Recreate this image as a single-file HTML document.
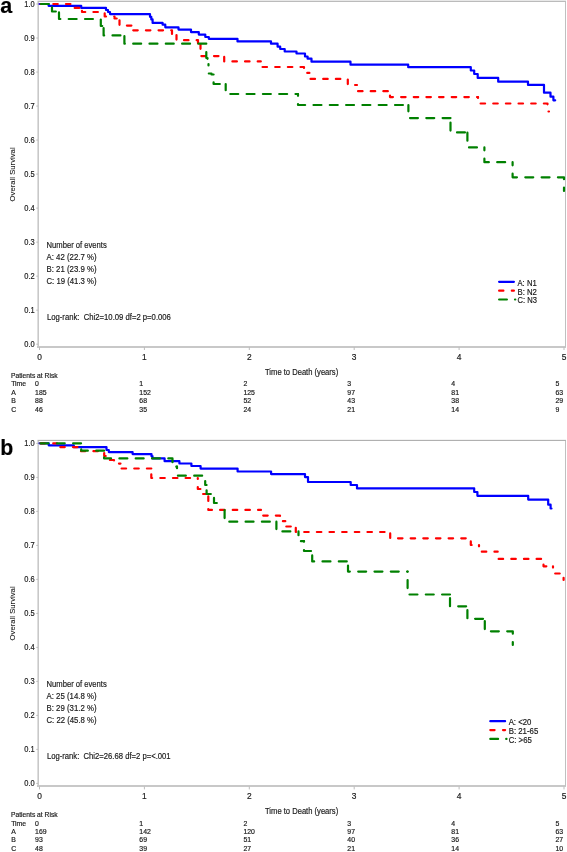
<!DOCTYPE html>
<html><head><meta charset="utf-8"><style>
html,body{margin:0;padding:0;background:#fff;}
svg{display:block;font-family:"Liberation Sans", sans-serif;will-change:transform;}
</style></head><body>
<svg width="567" height="852" viewBox="0 0 567 852">
<rect width="567" height="852" fill="#fff"/>
<g>
<rect x="37.5" y="0" width="528.5" height="1" fill="#e8e8e8"/>
<rect x="37.5" y="1" width="528.5" height="1" fill="#bbbbbb"/>
<rect x="37" y="2" width="1" height="346" fill="#dedede"/>
<rect x="38" y="2" width="1" height="346" fill="#c8c8c8"/>
<rect x="37" y="346" width="529" height="2" fill="#c8c8c8"/>
<rect x="565" y="2" width="1" height="345" fill="#c0c0c0"/>
<path d="M36.3,4.00H38" stroke="#bcbcbc" stroke-width="1"/>
<path d="M36.3,38.02H38" stroke="#bcbcbc" stroke-width="1"/>
<path d="M36.3,72.04H38" stroke="#bcbcbc" stroke-width="1"/>
<path d="M36.3,106.06H38" stroke="#bcbcbc" stroke-width="1"/>
<path d="M36.3,140.08H38" stroke="#bcbcbc" stroke-width="1"/>
<path d="M36.3,174.10H38" stroke="#bcbcbc" stroke-width="1"/>
<path d="M36.3,208.12H38" stroke="#bcbcbc" stroke-width="1"/>
<path d="M36.3,242.14H38" stroke="#bcbcbc" stroke-width="1"/>
<path d="M36.3,276.16H38" stroke="#bcbcbc" stroke-width="1"/>
<path d="M36.3,310.18H38" stroke="#bcbcbc" stroke-width="1"/>
<path d="M36.3,344.20H38" stroke="#bcbcbc" stroke-width="1"/>
<path d="M39.50,347V350" stroke="#bcbcbc" stroke-width="1"/>
<path d="M144.40,347V350" stroke="#bcbcbc" stroke-width="1"/>
<path d="M249.30,347V350" stroke="#bcbcbc" stroke-width="1"/>
<path d="M354.20,347V350" stroke="#bcbcbc" stroke-width="1"/>
<path d="M459.10,347V350" stroke="#bcbcbc" stroke-width="1"/>
<path d="M564.00,347V350" stroke="#bcbcbc" stroke-width="1"/>
<path d="M39.5,4H48.6V5.8H81.2V7.9H106V10H108V12H110V14.1H150V16.8H151.3V19.4H152.6V22.9H162.6V24.7H165.3V27.3H178.5V29.6H191V32.1H198.8V34.6H205.3V37H208.8V38.8H237.5V41.4H271V43.7H277.6V46.7H280.2V49H284.7V51.5H296.5V53.5H305V56.5H307.6V58.7H311.5V61.7H350.5V64.7H408.2V67.2H470.8V70.5H474.2V74H477.7V77.9H498.2V81.7H528V84.9H544V92.7H550.5V96.7H553.4V100.3H555.2" fill="none" stroke="#0000ff" stroke-width="2.2" stroke-linecap="round" stroke-linejoin="round"/>
<path d="M39.5,4H72.4V7.9H82" fill="none" stroke="#ff0000" stroke-width="2.2" stroke-dasharray="4.50 8.15" stroke-dashoffset="11.50" stroke-linecap="round" stroke-linejoin="round"/>
<path d="M82,7.9V12H104.7V16.5H114.5V18.5H119.5" fill="none" stroke="#ff0000" stroke-width="2.2" stroke-dasharray="4.50 8.15" stroke-dashoffset="9.80" stroke-linecap="round" stroke-linejoin="round"/>
<path d="M119.5,18.5V25.6H132" fill="none" stroke="#ff0000" stroke-width="2.2" stroke-dasharray="4.50 8.15" stroke-dashoffset="10.80" stroke-linecap="round" stroke-linejoin="round"/>
<path d="M132,25.6V30.3H172V34H176.5" fill="none" stroke="#ff0000" stroke-width="2.2" stroke-dasharray="4.50 8.15" stroke-dashoffset="6.70" stroke-linecap="round" stroke-linejoin="round"/>
<path d="M176.5,34V40.2H198V44H200.5" fill="none" stroke="#ff0000" stroke-width="2.2" stroke-dasharray="4.50 8.15" stroke-dashoffset="11.60" stroke-linecap="round" stroke-linejoin="round"/>
<path d="M200.5,44V56.1H224.2" fill="none" stroke="#ff0000" stroke-width="2.2" stroke-dasharray="4.50 8.15" stroke-dashoffset="12.35" stroke-linecap="round" stroke-linejoin="round"/>
<path d="M224.2,56.1V61.4H260.8" fill="none" stroke="#ff0000" stroke-width="2.2" stroke-dasharray="4.50 8.15" stroke-dashoffset="11.80" stroke-linecap="round" stroke-linejoin="round"/>
<path d="M260.8,61.4V67H304V72.9H309.4" fill="none" stroke="#ff0000" stroke-width="2.2" stroke-dasharray="4.50 8.15" stroke-dashoffset="5.30" stroke-linecap="round" stroke-linejoin="round"/>
<path d="M309.4,72.9V78.9H347.8V85H357" fill="none" stroke="#ff0000" stroke-width="2.2" stroke-dasharray="4.50 8.15" stroke-dashoffset="5.50" stroke-linecap="round" stroke-linejoin="round"/>
<path d="M357,85V91.2H390" fill="none" stroke="#ff0000" stroke-width="2.2" stroke-dasharray="4.50 8.15" stroke-dashoffset="5.40" stroke-linecap="round" stroke-linejoin="round"/>
<path d="M390,91.2V97.1H478" fill="none" stroke="#ff0000" stroke-width="2.2" stroke-dasharray="4.50 8.15" stroke-dashoffset="8.30" stroke-linecap="round" stroke-linejoin="round"/>
<path d="M478,97.1V103.5H547.5V111.5H549" fill="none" stroke="#ff0000" stroke-width="2.2" stroke-dasharray="4.50 8.15" stroke-dashoffset="3.65" stroke-linecap="round" stroke-linejoin="round"/>
<path d="M39.5,4H52" fill="none" stroke="#008000" stroke-width="2.2" stroke-dasharray="7.95 8.35" stroke-dashoffset="14.90" stroke-linecap="round" stroke-linejoin="round"/>
<path d="M52,4V11.5H59" fill="none" stroke="#008000" stroke-width="2.2" stroke-dasharray="7.95 8.35" stroke-dashoffset="12.90" stroke-linecap="round" stroke-linejoin="round"/>
<path d="M59,11.5V19H100.8V26H103.6" fill="none" stroke="#008000" stroke-width="2.2" stroke-dasharray="7.95 8.35" stroke-dashoffset="15.40" stroke-linecap="round" stroke-linejoin="round"/>
<path d="M103.6,26V35.4H124.4" fill="none" stroke="#008000" stroke-width="2.2" stroke-dasharray="7.95 8.35" stroke-dashoffset="14.30" stroke-linecap="round" stroke-linejoin="round"/>
<path d="M124.4,35.4V43.7H206.3V58H207.5V64H208.5" fill="none" stroke="#008000" stroke-width="2.2" stroke-dasharray="7.95 8.35" stroke-dashoffset="15.50" stroke-linecap="round" stroke-linejoin="round"/>
<path d="M208.5,64V73.5H211.5V74.5H213.6" fill="none" stroke="#008000" stroke-width="2.2" stroke-dasharray="7.95 8.35" stroke-dashoffset="6.50" stroke-linecap="round" stroke-linejoin="round"/>
<path d="M213.6,74.5V84H225.7" fill="none" stroke="#008000" stroke-width="2.2" stroke-dasharray="7.95 8.35" stroke-dashoffset="8.50" stroke-linecap="round" stroke-linejoin="round"/>
<path d="M225.7,84V94H298" fill="none" stroke="#008000" stroke-width="2.2" stroke-dasharray="7.95 8.35" stroke-dashoffset="1.70" stroke-linecap="round" stroke-linejoin="round"/>
<path d="M298,94V105H408.4" fill="none" stroke="#008000" stroke-width="2.2" stroke-dasharray="7.95 8.35" stroke-dashoffset="6.10" stroke-linecap="round" stroke-linejoin="round"/>
<path d="M408.4,105V118.1H450.5" fill="none" stroke="#008000" stroke-width="2.2" stroke-dasharray="7.95 8.35" stroke-dashoffset="1.60" stroke-linecap="round" stroke-linejoin="round"/>
<path d="M450.5,118.1V132.4H467.4" fill="none" stroke="#008000" stroke-width="2.2" stroke-dasharray="7.95 8.35" stroke-dashoffset="11.80" stroke-linecap="round" stroke-linejoin="round"/>
<path d="M467.4,132.4V147.4H484.4" fill="none" stroke="#008000" stroke-width="2.2" stroke-dasharray="7.95 8.35" stroke-dashoffset="16.00" stroke-linecap="round" stroke-linejoin="round"/>
<path d="M484.4,147.4V162.2H512.6" fill="none" stroke="#008000" stroke-width="2.2" stroke-dasharray="7.95 8.35" stroke-dashoffset="5.00" stroke-linecap="round" stroke-linejoin="round"/>
<path d="M512.6,162.2V177.3H564V191" fill="none" stroke="#008000" stroke-width="2.2" stroke-dasharray="7.95 8.35" stroke-dashoffset="4.80" stroke-linecap="round" stroke-linejoin="round"/>
<path d="M499.1,281.8H513.9" stroke="#0000ff" stroke-width="2.2" stroke-linecap="round"/>
<path d="M499.1,290.7H513.9" stroke="#ff0000" stroke-width="2.2" stroke-dasharray="4.3 8.4" stroke-linecap="round"/>
<path d="M499.1,299.5H515.3" stroke="#008000" stroke-width="2.2" stroke-dasharray="7.8 8.1" stroke-linecap="round"/>
<rect x="37.5" y="439" width="528.5" height="1" fill="#f3f3f3"/>
<rect x="37.5" y="440" width="528.5" height="1" fill="#b0b0b0"/>
<rect x="37" y="441" width="1" height="346" fill="#dedede"/>
<rect x="38" y="441" width="1" height="346" fill="#c8c8c8"/>
<rect x="37" y="785" width="529" height="2" fill="#c8c8c8"/>
<rect x="565" y="441" width="1" height="345" fill="#c0c0c0"/>
<path d="M36.3,443.40H38" stroke="#bcbcbc" stroke-width="1"/>
<path d="M36.3,477.40H38" stroke="#bcbcbc" stroke-width="1"/>
<path d="M36.3,511.40H38" stroke="#bcbcbc" stroke-width="1"/>
<path d="M36.3,545.40H38" stroke="#bcbcbc" stroke-width="1"/>
<path d="M36.3,579.40H38" stroke="#bcbcbc" stroke-width="1"/>
<path d="M36.3,613.40H38" stroke="#bcbcbc" stroke-width="1"/>
<path d="M36.3,647.40H38" stroke="#bcbcbc" stroke-width="1"/>
<path d="M36.3,681.40H38" stroke="#bcbcbc" stroke-width="1"/>
<path d="M36.3,715.40H38" stroke="#bcbcbc" stroke-width="1"/>
<path d="M36.3,749.40H38" stroke="#bcbcbc" stroke-width="1"/>
<path d="M36.3,783.40H38" stroke="#bcbcbc" stroke-width="1"/>
<path d="M39.50,786.4V789.4" stroke="#bcbcbc" stroke-width="1"/>
<path d="M144.40,786.4V789.4" stroke="#bcbcbc" stroke-width="1"/>
<path d="M249.30,786.4V789.4" stroke="#bcbcbc" stroke-width="1"/>
<path d="M354.20,786.4V789.4" stroke="#bcbcbc" stroke-width="1"/>
<path d="M459.10,786.4V789.4" stroke="#bcbcbc" stroke-width="1"/>
<path d="M564.00,786.4V789.4" stroke="#bcbcbc" stroke-width="1"/>
<path d="M39.5,443.3H48.7V445.3H73.8V447.2H106.5V450H108.8V452.1H132.6V454.1H151.5V456.2H152.5V458.4H164.6V461.2H179.4V463.5H191.4V466H200.6V468.6H237.6V471.5H271.1V474.1H305V477.1H308V482H350.7V485H357V488.4H474.2V492H477.4V495.8H528.2V499.6H548.2V504.7H550.6V508.5H551.5" fill="none" stroke="#0000ff" stroke-width="2.2" stroke-linecap="round" stroke-linejoin="round"/>
<path d="M39.5,443.3H57" fill="none" stroke="#ff0000" stroke-width="2.2" stroke-dasharray="4.50 8.15" stroke-dashoffset="11.60" stroke-linecap="round" stroke-linejoin="round"/>
<path d="M57,443.3V447.1H81" fill="none" stroke="#ff0000" stroke-width="2.2" stroke-dasharray="4.50 8.15" stroke-dashoffset="5.55" stroke-linecap="round" stroke-linejoin="round"/>
<path d="M81,447.1V451.2H104.2V456H106.5V460H114V463.6H120.5" fill="none" stroke="#ff0000" stroke-width="2.2" stroke-dasharray="4.50 8.15" stroke-dashoffset="8.80" stroke-linecap="round" stroke-linejoin="round"/>
<path d="M120.5,463.6V468.5H151.3" fill="none" stroke="#ff0000" stroke-width="2.2" stroke-dasharray="4.50 8.15" stroke-dashoffset="6.65" stroke-linecap="round" stroke-linejoin="round"/>
<path d="M151.3,468.5V478H197.8" fill="none" stroke="#ff0000" stroke-width="2.2" stroke-dasharray="4.50 8.15" stroke-dashoffset="6.80" stroke-linecap="round" stroke-linejoin="round"/>
<path d="M197.8,478V489H201.8" fill="none" stroke="#ff0000" stroke-width="2.2" stroke-dasharray="4.50 8.15" stroke-dashoffset="3.55" stroke-linecap="round" stroke-linejoin="round"/>
<path d="M201.8,489V494H208.3" fill="none" stroke="#ff0000" stroke-width="2.2" stroke-dasharray="4.50 8.15" stroke-dashoffset="6.35" stroke-linecap="round" stroke-linejoin="round"/>
<path d="M208.3,494V509.9H261" fill="none" stroke="#ff0000" stroke-width="2.2" stroke-dasharray="4.50 8.15" stroke-dashoffset="10.25" stroke-linecap="round" stroke-linejoin="round"/>
<path d="M261,509.9V515.6H280V521.2H285.3" fill="none" stroke="#ff0000" stroke-width="2.2" stroke-dasharray="4.50 8.15" stroke-dashoffset="4.75" stroke-linecap="round" stroke-linejoin="round"/>
<path d="M285.3,521.2V526.5H295.8" fill="none" stroke="#ff0000" stroke-width="2.2" stroke-dasharray="4.50 8.15" stroke-dashoffset="6.35" stroke-linecap="round" stroke-linejoin="round"/>
<path d="M295.8,526.5V532H390.2" fill="none" stroke="#ff0000" stroke-width="2.2" stroke-dasharray="4.50 8.15" stroke-dashoffset="11.40" stroke-linecap="round" stroke-linejoin="round"/>
<path d="M390.2,532V538.3H470.8V545H479" fill="none" stroke="#ff0000" stroke-width="2.2" stroke-dasharray="4.50 8.15" stroke-dashoffset="11.20" stroke-linecap="round" stroke-linejoin="round"/>
<path d="M479,545V551.7H497.7" fill="none" stroke="#ff0000" stroke-width="2.2" stroke-dasharray="4.50 8.15" stroke-dashoffset="3.15" stroke-linecap="round" stroke-linejoin="round"/>
<path d="M497.7,551.7V558.9H543.5V566.3H553" fill="none" stroke="#ff0000" stroke-width="2.2" stroke-dasharray="4.50 8.15" stroke-dashoffset="4.50" stroke-linecap="round" stroke-linejoin="round"/>
<path d="M553,566.3V573.5H563.6V580" fill="none" stroke="#ff0000" stroke-width="2.2" stroke-dasharray="4.50 8.15" stroke-dashoffset="3.25" stroke-linecap="round" stroke-linejoin="round"/>
<path d="M39.5,443.3H81.2" fill="none" stroke="#008000" stroke-width="2.2" stroke-dasharray="7.95 8.35" stroke-dashoffset="15.30" stroke-linecap="round" stroke-linejoin="round"/>
<path d="M81.2,443.3V450.7H104.1" fill="none" stroke="#008000" stroke-width="2.2" stroke-dasharray="7.95 8.35" stroke-dashoffset="10.20" stroke-linecap="round" stroke-linejoin="round"/>
<path d="M104.1,450.7V458.4H172.5V466.7H177" fill="none" stroke="#008000" stroke-width="2.2" stroke-dasharray="7.95 8.35" stroke-dashoffset="9.60" stroke-linecap="round" stroke-linejoin="round"/>
<path d="M177,466.7V475.7H205.2V485H206.6" fill="none" stroke="#008000" stroke-width="2.2" stroke-dasharray="7.95 8.35" stroke-dashoffset="6.40" stroke-linecap="round" stroke-linejoin="round"/>
<path d="M206.6,485V494H214" fill="none" stroke="#008000" stroke-width="2.2" stroke-dasharray="7.95 8.35" stroke-dashoffset="11.00" stroke-linecap="round" stroke-linejoin="round"/>
<path d="M214,494V503H224.6" fill="none" stroke="#008000" stroke-width="2.2" stroke-dasharray="7.95 8.35" stroke-dashoffset="12.40" stroke-linecap="round" stroke-linejoin="round"/>
<path d="M224.6,503V521.7H276.4" fill="none" stroke="#008000" stroke-width="2.2" stroke-dasharray="7.95 8.35" stroke-dashoffset="9.20" stroke-linecap="round" stroke-linejoin="round"/>
<path d="M276.4,521.7V531.4H298.5" fill="none" stroke="#008000" stroke-width="2.2" stroke-dasharray="7.95 8.35" stroke-dashoffset="0.60" stroke-linecap="round" stroke-linejoin="round"/>
<path d="M298.5,531.4V541.2H304" fill="none" stroke="#008000" stroke-width="2.2" stroke-dasharray="7.95 8.35" stroke-dashoffset="4.10" stroke-linecap="round" stroke-linejoin="round"/>
<path d="M304,541.2V551H312.2" fill="none" stroke="#008000" stroke-width="2.2" stroke-dasharray="7.95 8.35" stroke-dashoffset="7.40" stroke-linecap="round" stroke-linejoin="round"/>
<path d="M312.2,551V561.4H348" fill="none" stroke="#008000" stroke-width="2.2" stroke-dasharray="7.95 8.35" stroke-dashoffset="11.90" stroke-linecap="round" stroke-linejoin="round"/>
<path d="M348,561.4V571.6H407.6" fill="none" stroke="#008000" stroke-width="2.2" stroke-dasharray="7.95 8.35" stroke-dashoffset="12.20" stroke-linecap="round" stroke-linejoin="round"/>
<path d="M407.6,571.6V594.5H450" fill="none" stroke="#008000" stroke-width="2.2" stroke-dasharray="7.95 8.35" stroke-dashoffset="7.80" stroke-linecap="round" stroke-linejoin="round"/>
<path d="M450,594.5V606.3H467.4" fill="none" stroke="#008000" stroke-width="2.2" stroke-dasharray="7.95 8.35" stroke-dashoffset="12.60" stroke-linecap="round" stroke-linejoin="round"/>
<path d="M467.4,606.3V618.8H484.8" fill="none" stroke="#008000" stroke-width="2.2" stroke-dasharray="7.95 8.35" stroke-dashoffset="12.40" stroke-linecap="round" stroke-linejoin="round"/>
<path d="M484.8,618.8V631.3H512.8V645" fill="none" stroke="#008000" stroke-width="2.2" stroke-dasharray="7.95 8.35" stroke-dashoffset="14.00" stroke-linecap="round" stroke-linejoin="round"/>
<path d="M490.3,721.2H505.09999999999997" stroke="#0000ff" stroke-width="2.2" stroke-linecap="round"/>
<path d="M490.3,730.0999999999999H505.09999999999997" stroke="#ff0000" stroke-width="2.2" stroke-dasharray="4.3 8.4" stroke-linecap="round"/>
<path d="M490.3,738.9H506.5" stroke="#008000" stroke-width="2.2" stroke-dasharray="7.8 8.1" stroke-linecap="round"/>
</g>
<g fill="#1a1a1a" stroke="#1a1a1a" stroke-width="0.18">
<text x="0.3" y="13.00" font-size="21.5" font-weight="bold" fill="#000">a</text>
<text x="34.7" y="6.91" font-size="8.4" text-anchor="end" textLength="10.4" lengthAdjust="spacingAndGlyphs">1.0</text>
<text x="34.7" y="40.93" font-size="8.4" text-anchor="end" textLength="10.4" lengthAdjust="spacingAndGlyphs">0.9</text>
<text x="34.7" y="74.95" font-size="8.4" text-anchor="end" textLength="10.4" lengthAdjust="spacingAndGlyphs">0.8</text>
<text x="34.7" y="108.97" font-size="8.4" text-anchor="end" textLength="10.4" lengthAdjust="spacingAndGlyphs">0.7</text>
<text x="34.7" y="142.99" font-size="8.4" text-anchor="end" textLength="10.4" lengthAdjust="spacingAndGlyphs">0.6</text>
<text x="34.7" y="177.01" font-size="8.4" text-anchor="end" textLength="10.4" lengthAdjust="spacingAndGlyphs">0.5</text>
<text x="34.7" y="211.03" font-size="8.4" text-anchor="end" textLength="10.4" lengthAdjust="spacingAndGlyphs">0.4</text>
<text x="34.7" y="245.05" font-size="8.4" text-anchor="end" textLength="10.4" lengthAdjust="spacingAndGlyphs">0.3</text>
<text x="34.7" y="279.07" font-size="8.4" text-anchor="end" textLength="10.4" lengthAdjust="spacingAndGlyphs">0.2</text>
<text x="34.7" y="313.09" font-size="8.4" text-anchor="end" textLength="10.4" lengthAdjust="spacingAndGlyphs">0.1</text>
<text x="34.7" y="347.11" font-size="8.4" text-anchor="end" textLength="10.4" lengthAdjust="spacingAndGlyphs">0.0</text>
<text x="39.5" y="359.80" font-size="8.4" text-anchor="middle">0</text>
<text x="144.4" y="359.80" font-size="8.4" text-anchor="middle">1</text>
<text x="249.3" y="359.80" font-size="8.4" text-anchor="middle">2</text>
<text x="354.20000000000005" y="359.80" font-size="8.4" text-anchor="middle">3</text>
<text x="459.1" y="359.80" font-size="8.4" text-anchor="middle">4</text>
<text x="564.0" y="359.80" font-size="8.4" text-anchor="middle">5</text>
<text x="265" y="374.90" font-size="8.6" textLength="73.2" lengthAdjust="spacingAndGlyphs">Time to Death (years)</text>
<text x="0" y="0" font-size="7.9" stroke-width="0.08" text-anchor="middle" textLength="54" lengthAdjust="spacingAndGlyphs" transform="translate(15.1,174.4) rotate(-90)">Overall Survival</text>
<text x="46.5" y="247.50" font-size="8.6" textLength="60.3" lengthAdjust="spacingAndGlyphs">Number of events</text>
<text x="46.5" y="259.50" font-size="8.6" textLength="50" lengthAdjust="spacingAndGlyphs">A: 42 (22.7 %)</text>
<text x="46.5" y="271.60" font-size="8.6" textLength="50" lengthAdjust="spacingAndGlyphs">B: 21 (23.9 %)</text>
<text x="46.5" y="283.60" font-size="8.6" textLength="50" lengthAdjust="spacingAndGlyphs">C: 19 (41.3 %)</text>
<text x="46.9" y="319.50" font-size="8.6" textLength="124" lengthAdjust="spacingAndGlyphs">Log-rank:  Chi2=10.09 df=2 p=0.006</text>
<text x="517.5" y="285.60" font-size="8.2" textLength="19.2" lengthAdjust="spacingAndGlyphs">A: N1</text>
<text x="517.5" y="294.50" font-size="8.2" textLength="19.4" lengthAdjust="spacingAndGlyphs">B: N2</text>
<text x="517.5" y="303.30" font-size="8.2" textLength="19.4" lengthAdjust="spacingAndGlyphs">C: N3</text>
<text x="11" y="377.80" font-size="6.5" textLength="46.6" lengthAdjust="spacingAndGlyphs">Patients at Risk</text>
<text x="11.2" y="386.10" font-size="6.9" textLength="14.9" lengthAdjust="spacingAndGlyphs">Time</text>
<text x="35.1" y="386.10" font-size="6.9">0</text>
<text x="139.3" y="386.10" font-size="6.9">1</text>
<text x="243.4" y="386.10" font-size="6.9">2</text>
<text x="347.3" y="386.10" font-size="6.9">3</text>
<text x="451.3" y="386.10" font-size="6.9">4</text>
<text x="555.5" y="386.10" font-size="6.9">5</text>
<text x="11.2" y="394.80" font-size="6.9">A</text>
<text x="35.1" y="394.80" font-size="6.9">185</text>
<text x="139.3" y="394.80" font-size="6.9">152</text>
<text x="243.4" y="394.80" font-size="6.9">125</text>
<text x="347.3" y="394.80" font-size="6.9">97</text>
<text x="451.3" y="394.80" font-size="6.9">81</text>
<text x="555.5" y="394.80" font-size="6.9">63</text>
<text x="11.2" y="403.00" font-size="6.9">B</text>
<text x="35.1" y="403.00" font-size="6.9">88</text>
<text x="139.3" y="403.00" font-size="6.9">68</text>
<text x="243.4" y="403.00" font-size="6.9">52</text>
<text x="347.3" y="403.00" font-size="6.9">43</text>
<text x="451.3" y="403.00" font-size="6.9">38</text>
<text x="555.5" y="403.00" font-size="6.9">29</text>
<text x="11.2" y="411.50" font-size="6.9">C</text>
<text x="35.1" y="411.50" font-size="6.9">46</text>
<text x="139.3" y="411.50" font-size="6.9">35</text>
<text x="243.4" y="411.50" font-size="6.9">24</text>
<text x="347.3" y="411.50" font-size="6.9">21</text>
<text x="451.3" y="411.50" font-size="6.9">14</text>
<text x="555.5" y="411.50" font-size="6.9">9</text>
<text x="0.2" y="455.00" font-size="21.3" font-weight="bold" fill="#000" transform="translate(0,0.45)">b</text>
<text x="34.7" y="446.31" font-size="8.4" text-anchor="end" textLength="10.4" lengthAdjust="spacingAndGlyphs">1.0</text>
<text x="34.7" y="480.31" font-size="8.4" text-anchor="end" textLength="10.4" lengthAdjust="spacingAndGlyphs">0.9</text>
<text x="34.7" y="514.31" font-size="8.4" text-anchor="end" textLength="10.4" lengthAdjust="spacingAndGlyphs">0.8</text>
<text x="34.7" y="548.31" font-size="8.4" text-anchor="end" textLength="10.4" lengthAdjust="spacingAndGlyphs">0.7</text>
<text x="34.7" y="582.31" font-size="8.4" text-anchor="end" textLength="10.4" lengthAdjust="spacingAndGlyphs">0.6</text>
<text x="34.7" y="616.31" font-size="8.4" text-anchor="end" textLength="10.4" lengthAdjust="spacingAndGlyphs">0.5</text>
<text x="34.7" y="650.31" font-size="8.4" text-anchor="end" textLength="10.4" lengthAdjust="spacingAndGlyphs">0.4</text>
<text x="34.7" y="684.31" font-size="8.4" text-anchor="end" textLength="10.4" lengthAdjust="spacingAndGlyphs">0.3</text>
<text x="34.7" y="718.31" font-size="8.4" text-anchor="end" textLength="10.4" lengthAdjust="spacingAndGlyphs">0.2</text>
<text x="34.7" y="752.31" font-size="8.4" text-anchor="end" textLength="10.4" lengthAdjust="spacingAndGlyphs">0.1</text>
<text x="34.7" y="786.31" font-size="8.4" text-anchor="end" textLength="10.4" lengthAdjust="spacingAndGlyphs">0.0</text>
<text x="39.5" y="799.20" font-size="8.4" text-anchor="middle">0</text>
<text x="144.4" y="799.20" font-size="8.4" text-anchor="middle">1</text>
<text x="249.3" y="799.20" font-size="8.4" text-anchor="middle">2</text>
<text x="354.20000000000005" y="799.20" font-size="8.4" text-anchor="middle">3</text>
<text x="459.1" y="799.20" font-size="8.4" text-anchor="middle">4</text>
<text x="564.0" y="799.20" font-size="8.4" text-anchor="middle">5</text>
<text x="265" y="814.30" font-size="8.6" textLength="73.2" lengthAdjust="spacingAndGlyphs">Time to Death (years)</text>
<text x="0" y="0" font-size="7.9" stroke-width="0.08" text-anchor="middle" textLength="54" lengthAdjust="spacingAndGlyphs" transform="translate(15.1,613.4) rotate(-90)">Overall Survival</text>
<text x="46.5" y="686.90" font-size="8.6" textLength="60.3" lengthAdjust="spacingAndGlyphs">Number of events</text>
<text x="46.5" y="698.90" font-size="8.6" textLength="50" lengthAdjust="spacingAndGlyphs">A: 25 (14.8 %)</text>
<text x="46.5" y="711.00" font-size="8.6" textLength="50" lengthAdjust="spacingAndGlyphs">B: 29 (31.2 %)</text>
<text x="46.5" y="723.00" font-size="8.6" textLength="50" lengthAdjust="spacingAndGlyphs">C: 22 (45.8 %)</text>
<text x="46.9" y="758.90" font-size="8.6" textLength="123.7" lengthAdjust="spacingAndGlyphs">Log-rank:  Chi2=26.68 df=2 p=&lt;.001</text>
<text x="508.7" y="725.00" font-size="8.2" textLength="22.7" lengthAdjust="spacingAndGlyphs">A: &lt;20</text>
<text x="508.7" y="733.90" font-size="8.2" textLength="29.6" lengthAdjust="spacingAndGlyphs">B: 21-65</text>
<text x="508.7" y="742.70" font-size="8.2" textLength="23.1" lengthAdjust="spacingAndGlyphs">C: &gt;65</text>
<text x="11" y="817.20" font-size="6.5" textLength="46.6" lengthAdjust="spacingAndGlyphs">Patients at Risk</text>
<text x="11.2" y="825.50" font-size="6.9" textLength="14.9" lengthAdjust="spacingAndGlyphs">Time</text>
<text x="35.1" y="825.50" font-size="6.9">0</text>
<text x="139.3" y="825.50" font-size="6.9">1</text>
<text x="243.4" y="825.50" font-size="6.9">2</text>
<text x="347.3" y="825.50" font-size="6.9">3</text>
<text x="451.3" y="825.50" font-size="6.9">4</text>
<text x="555.5" y="825.50" font-size="6.9">5</text>
<text x="11.2" y="834.20" font-size="6.9">A</text>
<text x="35.1" y="834.20" font-size="6.9">169</text>
<text x="139.3" y="834.20" font-size="6.9">142</text>
<text x="243.4" y="834.20" font-size="6.9">120</text>
<text x="347.3" y="834.20" font-size="6.9">97</text>
<text x="451.3" y="834.20" font-size="6.9">81</text>
<text x="555.5" y="834.20" font-size="6.9">63</text>
<text x="11.2" y="842.40" font-size="6.9">B</text>
<text x="35.1" y="842.40" font-size="6.9">93</text>
<text x="139.3" y="842.40" font-size="6.9">69</text>
<text x="243.4" y="842.40" font-size="6.9">51</text>
<text x="347.3" y="842.40" font-size="6.9">40</text>
<text x="451.3" y="842.40" font-size="6.9">36</text>
<text x="555.5" y="842.40" font-size="6.9">27</text>
<text x="11.2" y="850.90" font-size="6.9">C</text>
<text x="35.1" y="850.90" font-size="6.9">48</text>
<text x="139.3" y="850.90" font-size="6.9">39</text>
<text x="243.4" y="850.90" font-size="6.9">27</text>
<text x="347.3" y="850.90" font-size="6.9">21</text>
<text x="451.3" y="850.90" font-size="6.9">14</text>
<text x="555.5" y="850.90" font-size="6.9">10</text>
</g>
</svg>
</body></html>
